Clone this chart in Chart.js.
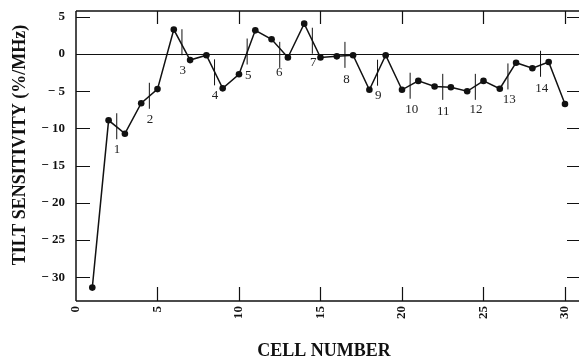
<!DOCTYPE html>
<html>
<head>
<meta charset="utf-8">
<script src="https://cdn.jsdelivr.net/npm/chart.js@4"></script>
<style>
  html, body { margin: 0; padding: 0; background: #fff; }
  #wrap { width: 579px; height: 357px; }
</style>
</head>
<body>
<div id="wrap"><canvas id="c" width="579" height="357"></canvas></div>
<script>
// ---- data ----
const cells = [1,2,3,4,5,6,7,8,9,10,11,12,13,14,15,16,17,18,19,20,21,22,23,24,25,26,27,28,29,30];
const tilt  = [-31.4,-8.9,-10.7,-6.6,-4.7,3.3,-0.8,-0.15,-4.6,-2.7,3.2,2.0,-0.45,4.1,-0.45,-0.3,-0.15,-4.8,-0.15,-4.8,-3.6,-4.35,-4.45,-5.0,-3.6,-4.65,-1.15,-1.9,-1.05,-6.7];

// module boundary markers (vertical bars) and their numbers
const moduleX      = [2.5,4.5,6.5,8.5,10.5,12.5,14.5,16.5,18.5,20.5,22.5,24.5,26.5,28.5];
const moduleY      = [-9.7,-5.6,1.6,-2.45,0.35,-0.1,1.8,-0.1,-2.5,-4.25,-4.4,-4.4,-3.0,-1.3];
const moduleLabels = ["1","2","3","4","5","6","7","8","9","10","11","12","13","14"];
const labelX       = [2.52,4.54,6.55,8.53,10.57,12.47,14.56,16.6,18.55,20.6,22.53,24.54,26.58,28.57];
const labelY       = [-12.9,-8.8,-2.25,-5.6,-2.9,-2.5,-1.2,-3.45,-5.6,-7.5,-7.7,-7.5,-6.15,-4.6];

const xTicks = [0,5,10,15,20,25,30];
const yTicks = [5,0,-5,-10,-15,-20,-25,-30];
const xRange = [0, 30.86];
const yRange = [-33.2, 5.8];

const xTitle = "CELL NUMBER";
const yTitle = "TILT SENSITIVITY (%/MHz)";

const INK = '#111';
const serifBold = (s) => ({ family: '"Liberation Serif", "Times New Roman", serif', size: s, weight: 'bold' });
const noPad = (s) => { s.paddingTop = 0; s.paddingBottom = 0; s.paddingLeft = 0; s.paddingRight = 0; };

const framePlugin = {
  id: 'frame',
  afterDraw(chart) {
    const { ctx, chartArea: a, scales: { x, y } } = chart;
    ctx.save();
    ctx.strokeStyle = INK;
    ctx.lineWidth = 1.5;
    ctx.beginPath();
    ctx.moveTo(a.left, a.top); ctx.lineTo(a.right, a.top);
    ctx.moveTo(a.left, a.top); ctx.lineTo(a.left, a.bottom);
    ctx.moveTo(a.left, a.bottom); ctx.lineTo(a.right, a.bottom);
    ctx.stroke();

    ctx.lineWidth = 1.2;
    ctx.beginPath();
    yTicks.forEach(v => {
      const py = Math.round(y.getPixelForValue(v)) + 0.5;
      ctx.moveTo(a.left, py); ctx.lineTo(a.left + 14, py);
      ctx.moveTo(a.right, py); ctx.lineTo(a.right - 12, py);
    });
    xTicks.forEach(v => {
      if (v === 0) return;
      const px = Math.round(x.getPixelForValue(v)) + 0.5;
      ctx.moveTo(px, a.bottom); ctx.lineTo(px, a.bottom - 14);
      ctx.moveTo(px, a.top); ctx.lineTo(px, a.top + 13);
    });
    ctx.stroke();

    // module numbers
    ctx.fillStyle = '#222';
    ctx.font = '13px "Liberation Serif", "Times New Roman", serif';
    ctx.textAlign = 'center';
    ctx.textBaseline = 'middle';
    moduleLabels.forEach((t, i) => {
      ctx.fillText(t, x.getPixelForValue(labelX[i]), y.getPixelForValue(labelY[i]));
    });

    // axis titles
    ctx.fillStyle = INK;
    ctx.font = 'bold 18px "Liberation Serif", "Times New Roman", serif';
    ctx.textAlign = 'center';
    ctx.textBaseline = 'alphabetic';
    ctx.fillText(xTitle, 324, 356);
    ctx.save();
    ctx.translate(25, 145);
    ctx.rotate(-Math.PI / 2);
    ctx.fillText(yTitle, 0, 0);
    ctx.restore();
    ctx.restore();
  }
};

new Chart(document.getElementById('c'), {
  type: 'scatter',
  data: {
    datasets: [
      {
        data: cells.map((c, i) => ({ x: c, y: tilt[i] })),
        showLine: true,
        borderColor: INK,
        borderWidth: 1.5,
        backgroundColor: INK,
        pointRadius: 3.3,
        pointBorderWidth: 0,
        pointBackgroundColor: INK,
        tension: 0
      },
      {
        data: moduleX.map((m, i) => ({ x: m, y: moduleY[i] })),
        showLine: false,
        pointStyle: 'line',
        rotation: 90,
        pointRadius: 13,
        borderColor: INK,
        borderWidth: 1,
        pointBorderWidth: 1,
        pointBorderColor: INK
      }
    ]
  },
  options: {
    responsive: false,
    animation: false,
    devicePixelRatio: 1,
    events: [],
    layout: { autoPadding: false, padding: { left: 0, top: 11, right: 0, bottom: 0 } },
    plugins: { legend: { display: false }, tooltip: { enabled: false }, title: { display: false } },
    scales: {
      x: {
        type: 'linear',
        min: xRange[0], max: xRange[1],
        afterBuildTicks: (s) => { s.ticks = xTicks.map(v => ({ value: v })); },
        afterFit: (s) => { s.height = 56; noPad(s); },
        grid: { display: false, drawTicks: false },
        border: { display: false },
        ticks: {
          autoSkip: false, minRotation: 90, maxRotation: 90, padding: 5,
          color: INK, font: serifBold(13),
          callback: (v) => String(v)
        }
      },
      y: {
        type: 'linear',
        min: yRange[0], max: yRange[1],
        afterBuildTicks: (s) => { s.ticks = yTicks.map(v => ({ value: v })); },
        afterFit: (s) => { s.width = 76; noPad(s); },
        grid: {
          display: true, drawTicks: false, drawOnChartArea: true,
          color: (c) => (c.tick && c.tick.value === 0) ? INK : 'rgba(0,0,0,0)',
          lineWidth: 1
        },
        border: { display: false },
        ticks: {
          autoSkip: false, padding: 11, color: INK, font: serifBold(13),
          callback: (v) => v < 0 ? '\u2212 ' + Math.abs(v) : String(v)
        }
      }
    }
  },
  plugins: [framePlugin]
});
</script>
</body>
</html>
